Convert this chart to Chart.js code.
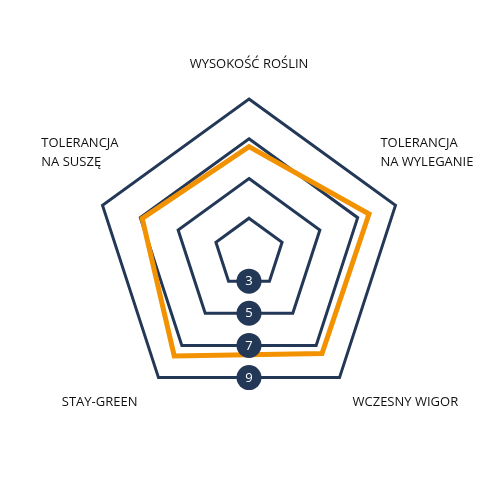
<!DOCTYPE html>
<html>
<head>
<meta charset="utf-8">
<script src="https://cdn.jsdelivr.net/npm/chart.js@4.4.0/dist/chart.umd.min.js"></script>
<style>
  html, body { margin: 0; padding: 0; background: #ffffff; }
  #wrap { width: 500px; height: 500px; }
</style>
</head>
<body>
<div id="wrap"><canvas id="c" width="500" height="500"></canvas></div>
<script>
// ---- data ----
const categories = [
  ["WYSOKOŚĆ ROŚLIN"],
  ["TOLERANCJA", "NA WYLEGANIE"],
  ["WCZESNY WIGOR"],
  ["STAY-GREEN"],
  ["TOLERANCJA", "NA SUSZĘ"]
];
const seriesValues = [6.6, 7.6, 7.5, 7.65, 6.9];
const tickLabels = [3, 5, 7, 9];
const scaleMin = 1.25;
const scaleMax = 9;

const NAVY = '#233757';
const ORANGE = '#f39200';
const TEXT = '#111111';
const FONT = '"Open Sans", "Noto Sans", sans-serif';

// label placement relative to each outer vertex
const labelPlacement = [
  { align: 'center', dx: 0,   dy: -34.5 },
  { align: 'left',   dx: -15, dy: -62.5 },
  { align: 'left',   dx: 13,  dy: 24.5 },
  { align: 'blockRight', dx: -21, dy: 24.5 },
  { align: 'blockRight', dx: 16,  dy: -62.5 }
];

const overlay = {
  id: 'overlay',
  afterDatasetsDraw(chart) {
    const scale = chart.scales.r;
    const ctx = chart.ctx;
    const cos36 = Math.cos(Math.PI / 5);
    // tick badges
    ctx.save();
    tickLabels.forEach(v => {
      const d = scale.getDistanceFromCenterForValue(v);
      const x = scale.xCenter;
      const y = scale.yCenter + d * cos36;
      ctx.beginPath();
      ctx.arc(x, y, 12.5, 0, Math.PI * 2);
      ctx.fillStyle = NAVY;
      ctx.fill();
      ctx.fillStyle = '#ffffff';
      ctx.font = '13px ' + FONT;
      ctx.textAlign = 'center';
      ctx.textBaseline = 'middle';
      ctx.fillText(String(v), x, y + 0.5);
    });
    // axis labels
    const outer = scale.getDistanceFromCenterForValue(scaleMax);
    ctx.font = '13px ' + FONT;
    ctx.fillStyle = TEXT;
    ctx.textBaseline = 'middle';
    const lh = 19;
    categories.forEach((lines, i) => {
      const p = scale.getPointPosition(i, outer);
      const pl = labelPlacement[i];
      const maxW = Math.max(...lines.map(l => ctx.measureText(l).width));
      let x, align;
      if (pl.align === 'center') { x = p.x + pl.dx; align = 'center'; }
      else if (pl.align === 'left') { x = p.x + pl.dx; align = 'left'; }
      else { x = p.x + pl.dx - maxW; align = 'left'; }
      ctx.textAlign = align;
      lines.forEach((l, k) => ctx.fillText(l, x, p.y + pl.dy + k * lh));
    });
    ctx.restore();
  }
};

new Chart(document.getElementById('c'), {
  type: 'radar',
  data: {
    labels: categories,
    datasets: [{
      data: seriesValues,
      borderColor: ORANGE,
      borderWidth: 5,
      backgroundColor: 'rgba(0,0,0,0)',
      fill: false,
      pointRadius: 0,
      pointHoverRadius: 0,
      borderJoinStyle: 'miter',
      tension: 0
    }]
  },
  options: {
    responsive: false,
    animation: false,
    devicePixelRatio: 1,
    events: [],
    layout: { padding: { left: 95, right: 97, top: 99, bottom: 93 } },
    plugins: { legend: { display: false }, tooltip: { enabled: false } },
    scales: {
      r: {
        min: scaleMin,
        max: scaleMax,
        afterBuildTicks(scale) {
          scale.ticks = [scaleMin, ...tickLabels].map(v => ({ value: v }));
        },
        ticks: { display: false },
        angleLines: { display: false },
        pointLabels: { display: false },
        grid: { color: NAVY, lineWidth: 3, circular: false }
      }
    }
  },
  plugins: [overlay]
});
</script>
</body>
</html>
